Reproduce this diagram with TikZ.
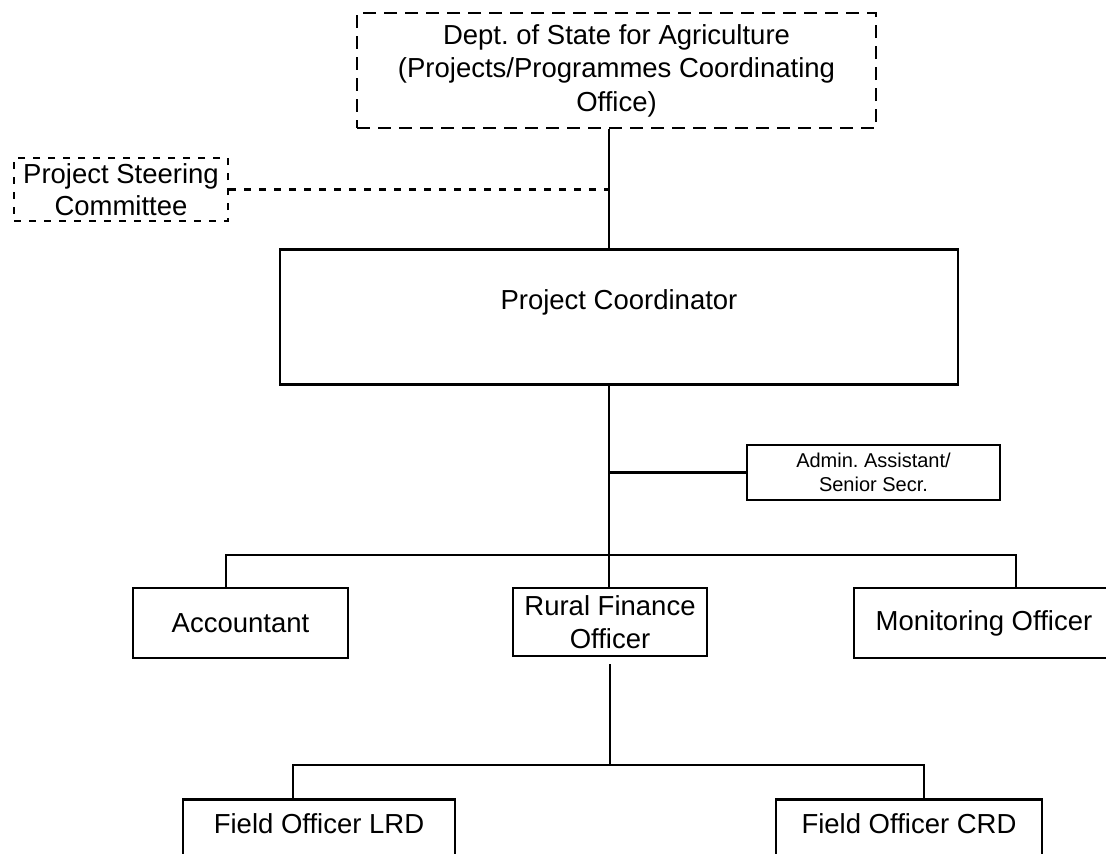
\documentclass[tikz,border=0pt]{standalone}
\usepackage{fontspec}
\setmainfont{Liberation Sans}
\frenchspacing
\tikzset{
  unit/.style={draw, line width=2.5pt, inner sep=2pt, align=center,
    font=\fontsize{27.5}{32.5}\selectfont},
  dashbox/.style={unit, dash pattern=on 13pt off 8pt},
  dotbox/.style={unit, dash pattern=on 7pt off 8pt},
  link/.style={line width=2.5pt},
}
\begin{document}
\begin{tikzpicture}[x=1pt,y=-1pt]
        \useasboundingbox (0,0) rectangle (1106,854);
        \clip (0,0) rectangle (1106,854);
        % trunk, bus lines and drops
        \coordinate (trunk) at (609,0);
        \coordinate (upbus) at (0,555);
        \coordinate (lowbus) at (0,765);
        \coordinate (accdrop) at (226,0);
        \coordinate (mondrop) at (1016,0);
        \coordinate (lrddrop) at (293,0);
        \coordinate (crddrop) at (924,0);
        % units
        \node[dashbox, minimum width=519, minimum height=115, font=\fontsize{27.5}{33.5}\selectfont] (dept) at (616.5,70.5)
          {Dept. of State for Agriculture\\(Projects/Programmes Coordinating\\Office)};
        \node[dotbox, minimum width=214, minimum height=63] (steer) at (121,189.5) {Project Steering\\Committee};
        \node[unit, anchor=north, minimum width=678, inner sep=0pt, text height=60pt, text depth=75pt] (pc) at (619,248) {Project Coordinator};
        \node[unit, minimum width=253, minimum height=55, font=\fontsize{20}{24}\selectfont] (admin) at (873.5,472.5) {Admin. Assistant/\\Senior Secr.};
        \node[unit, minimum width=215, minimum height=70] (acc) at (240.5,623) {Accountant};
        \node[unit, minimum width=194, minimum height=68] (rf) at (610,622) {Rural Finance\\Officer};
        \node[unit, minimum width=260, minimum height=70] (mon) at (984,623) {Monitoring Officer};
        \node[unit, anchor=north, minimum width=272, inner sep=0pt, text height=34pt, text depth=60pt] (lrd) at (319,798) {Field Officer LRD};
        \node[unit, anchor=north, minimum width=266, inner sep=0pt, text height=34pt, text depth=60pt] (crd) at (909,798) {Field Officer CRD};
        % connectors
        \draw[link] (dept.south -| trunk) -- (pc.north -| trunk);
        \draw[link, dash pattern=on 7pt off 8pt] (steer.east) -- (steer.east -| trunk);
        \draw[link] (pc.south -| trunk) -- (rf.north -| trunk);
        \draw[link] (admin.west -| trunk) -- (admin.west);
        \draw[link] (accdrop |- acc.north) |- (upbus -| mondrop) -- (mondrop |- mon.north);
        \draw[link, shorten <=7pt] (rf.south) -- (rf.south |- lowbus);
        \draw[link] (lrddrop |- lrd.north) |- (lowbus -| crddrop) -- (crddrop |- crd.north);
      \end{tikzpicture}
\end{document}
